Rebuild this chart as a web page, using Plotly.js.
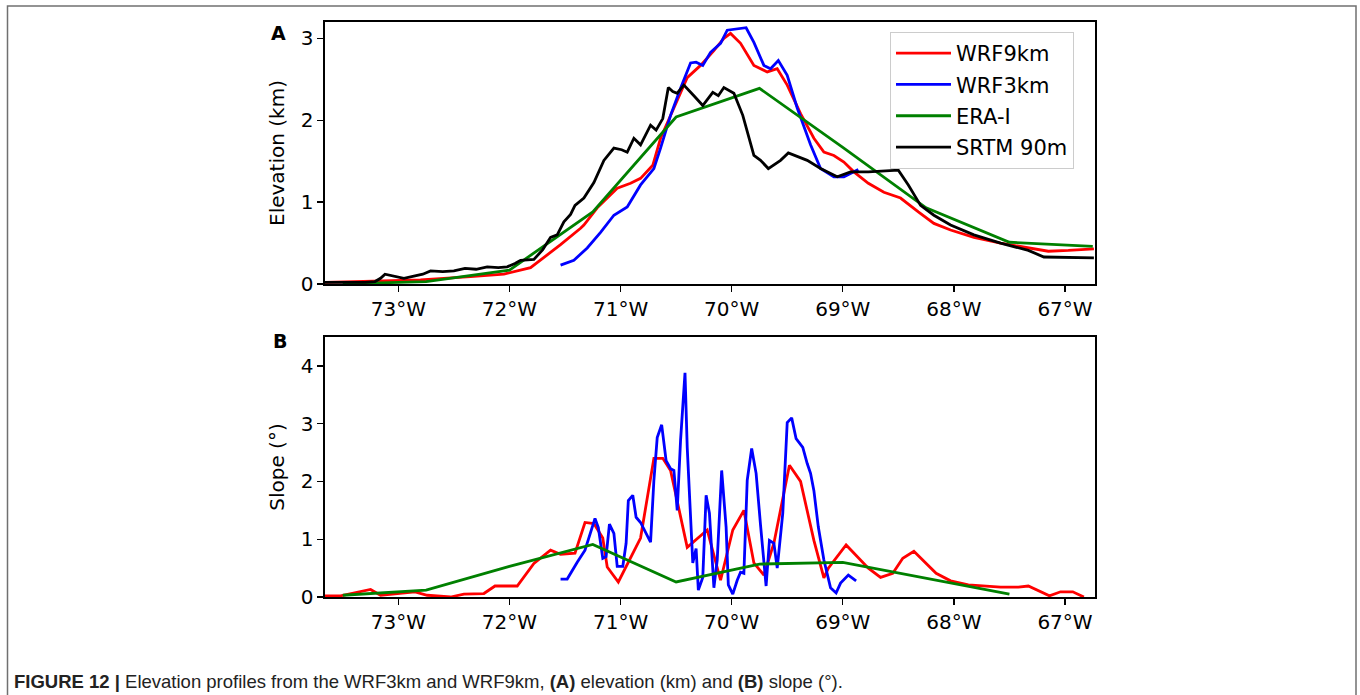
<!DOCTYPE html>
<html>
<head>
<meta charset="utf-8">
<script src="https://cdn.plot.ly/plotly-3.0.1.min.js"></script>
<style>
  html, body { margin: 0; padding: 0; background: #fff; }
  #chart { width: 1360px; height: 695px; }
</style>
</head>
<body>
<div id="chart"></div>
<script>
// ---- Panel A: elevation (km) ----
const wrf9Lon  = [-73.66,-73.16,-72.80,-72.35,-72.05,-71.81,-71.66,-71.54,-71.36,-71.33,-71.21,-71.03,-70.91,-70.82,-70.71,-70.64,-70.52,-70.40,-70.28,-70.16,-70.07,-70.01,-69.92,-69.80,-69.68,-69.59,-69.50,-69.38,-69.26,-69.17,-69.08,-68.99,-68.90,-68.77,-68.63,-68.48,-68.32,-68.18,-68.03,-67.82,-67.58,-67.33,-67.15,-66.97,-66.74];
const wrf9Elev = [0.02,0.04,0.05,0.09,0.12,0.20,0.35,0.48,0.68,0.72,0.93,1.17,1.23,1.29,1.45,1.78,2.15,2.52,2.67,2.85,3.00,3.06,2.94,2.67,2.59,2.63,2.43,2.08,1.78,1.61,1.57,1.49,1.37,1.23,1.12,1.05,0.88,0.74,0.66,0.57,0.50,0.44,0.40,0.41,0.43];

const wrf3Lon  = [-71.54,-71.42,-71.30,-71.18,-71.06,-70.94,-70.82,-70.70,-70.64,-70.55,-70.46,-70.37,-70.32,-70.26,-70.19,-70.10,-70.04,-69.95,-69.87,-69.80,-69.71,-69.65,-69.58,-69.50,-69.41,-69.29,-69.20,-69.08,-68.99,-68.86];
const wrf3Elev = [0.23,0.29,0.44,0.63,0.84,0.94,1.21,1.41,1.66,2.06,2.39,2.70,2.71,2.67,2.83,2.94,3.10,3.12,3.13,2.95,2.67,2.63,2.73,2.55,2.15,1.70,1.41,1.31,1.31,1.40];

const eraLon  = [-73.50,-72.75,-72.00,-71.25,-70.50,-69.75,-69.00,-68.25,-67.50,-66.75];
const eraElev = [0.00,0.03,0.17,0.88,2.04,2.39,1.67,0.93,0.51,0.46];

const srtmLon  = [-73.66,-73.30,-73.21,-73.16,-73.12,-73.05,-72.95,-72.85,-72.78,-72.71,-72.60,-72.50,-72.40,-72.30,-72.20,-72.10,-72.02,-71.95,-71.90,-71.78,-71.70,-71.63,-71.57,-71.51,-71.45,-71.41,-71.33,-71.24,-71.15,-71.06,-70.99,-70.94,-70.88,-70.82,-70.73,-70.68,-70.62,-70.57,-70.53,-70.49,-70.43,-70.34,-70.26,-70.17,-70.12,-70.07,-70.02,-69.98,-69.90,-69.80,-69.74,-69.67,-69.56,-69.49,-69.32,-69.20,-69.05,-68.93,-68.77,-68.63,-68.50,-68.41,-68.30,-68.18,-68.03,-67.82,-67.58,-67.33,-67.19,-66.74];
const srtmElev = [0.02,0.02,0.03,0.07,0.12,0.10,0.07,0.10,0.12,0.16,0.15,0.16,0.19,0.18,0.21,0.20,0.21,0.25,0.29,0.30,0.42,0.57,0.60,0.76,0.85,0.96,1.05,1.24,1.51,1.66,1.64,1.61,1.78,1.70,1.94,1.88,2.02,2.40,2.35,2.33,2.43,2.30,2.18,2.34,2.30,2.40,2.36,2.33,2.06,1.57,1.51,1.41,1.51,1.60,1.51,1.41,1.31,1.37,1.37,1.38,1.39,1.21,0.96,0.84,0.72,0.60,0.50,0.41,0.33,0.32];

// ---- Panel B: slope (degrees) ----
const wrf9SlopeLon = [-73.66,-73.52,-73.25,-73.16,-73.01,-72.85,-72.74,-72.53,-72.41,-72.23,-72.13,-71.93,-71.78,-71.63,-71.54,-71.41,-71.32,-71.24,-71.16,-71.12,-71.02,-70.82,-70.70,-70.62,-70.55,-70.40,-70.22,-70.10,-69.99,-69.89,-69.80,-69.71,-69.62,-69.48,-69.38,-69.26,-69.17,-69.13,-68.97,-68.77,-68.66,-68.55,-68.46,-68.36,-68.16,-68.03,-67.87,-67.58,-67.42,-67.33,-67.14,-67.04,-66.93,-66.83];
const wrf9Slope    = [0.02,0.02,0.13,0.03,0.06,0.09,0.03,0.00,0.05,0.06,0.19,0.19,0.58,0.81,0.74,0.76,1.29,1.27,1.02,0.52,0.26,1.02,2.40,2.40,2.19,0.86,1.16,0.29,1.16,1.50,0.59,0.38,0.93,2.28,2.00,0.98,0.33,0.50,0.90,0.50,0.34,0.41,0.67,0.79,0.41,0.28,0.21,0.17,0.17,0.19,0.02,0.09,0.09,0.00];

const wrf3SlopeLon = [-71.54,-71.48,-71.39,-71.32,-71.23,-71.20,-71.16,-71.13,-71.10,-71.06,-71.03,-70.98,-70.95,-70.93,-70.89,-70.86,-70.82,-70.73,-70.70,-70.67,-70.63,-70.59,-70.55,-70.52,-70.49,-70.46,-70.42,-70.40,-70.35,-70.32,-70.30,-70.26,-70.23,-70.20,-70.16,-70.13,-70.09,-70.05,-70.03,-69.99,-69.95,-69.92,-69.89,-69.86,-69.82,-69.78,-69.74,-69.69,-69.66,-69.62,-69.59,-69.54,-69.50,-69.46,-69.42,-69.36,-69.32,-69.29,-69.26,-69.22,-69.17,-69.11,-69.06,-69.02,-68.95,-68.88];
const wrf3Slope    = [0.31,0.31,0.60,0.81,1.36,1.20,0.67,0.70,1.26,1.10,0.53,0.53,0.93,1.67,1.76,1.38,1.29,0.95,2.02,2.76,2.98,2.36,2.22,2.19,1.50,2.71,3.88,2.59,0.59,0.84,0.12,0.34,1.76,1.45,0.16,0.64,2.19,1.21,0.21,0.05,0.29,0.43,0.41,2.02,2.57,2.14,1.24,0.19,0.98,0.93,0.50,1.45,3.02,3.10,2.74,2.59,2.31,2.14,1.84,1.21,0.64,0.16,0.07,0.24,0.38,0.28];

const eraSlopeLon = [-73.50,-72.75,-72.00,-71.25,-70.50,-69.75,-69.00,-68.25,-67.50];
const eraSlope    = [0.03,0.12,0.53,0.91,0.26,0.57,0.60,0.33,0.05];

const tickVals = [-73,-72,-71,-70,-69,-68,-67];
const tickText = ["73°W","72°W","71°W","70°W","69°W","68°W","67°W"];

const names  = ["WRF9km","WRF3km","ERA-I","SRTM 90m"];
const colors = ["#ff0000","#0000ff","#008000","#000000"];

const LW = 2.8;
const traces = [
  {x: wrf9Lon, y: wrf9Elev, name: names[0], legendgroup: names[0], mode: "lines", line: {color: colors[0], width: LW}, xaxis: "x", yaxis: "y"},
  {x: wrf3Lon, y: wrf3Elev, name: names[1], legendgroup: names[1], mode: "lines", line: {color: colors[1], width: LW}, xaxis: "x", yaxis: "y"},
  {x: eraLon, y: eraElev, name: names[2], legendgroup: names[2], mode: "lines", line: {color: colors[2], width: LW}, xaxis: "x", yaxis: "y"},
  {x: srtmLon, y: srtmElev, name: names[3], legendgroup: names[3], mode: "lines", line: {color: colors[3], width: LW}, xaxis: "x", yaxis: "y"},
  {x: wrf9SlopeLon, y: wrf9Slope, name: names[0], legendgroup: names[0], mode: "lines", line: {color: colors[0], width: LW}, xaxis: "x2", yaxis: "y2", showlegend: false},
  {x: wrf3SlopeLon, y: wrf3Slope, name: names[1], legendgroup: names[1], mode: "lines", line: {color: colors[1], width: LW}, xaxis: "x2", yaxis: "y2", showlegend: false},
  {x: eraSlopeLon, y: eraSlope, name: names[2], legendgroup: names[2], mode: "lines", line: {color: colors[2], width: LW}, xaxis: "x2", yaxis: "y2", showlegend: false}
];

const FONT = "DejaVu Sans, sans-serif";
const axisCommon = {
  showline: true, linecolor: "#000", linewidth: 1.6, mirror: true,
  ticks: "outside", ticklen: 6, tickwidth: 1.4, tickcolor: "#000",
  showgrid: false, zeroline: false,
  tickfont: {family: FONT, size: 20, color: "#000"}
};

// plot area pixels: x 325..1095, y 22..597
const L = 325, R = 1095, T = 22, B = 597;
const W = 1360, H = 695;
const px = v => (v - L) / (R - L);
const py = v => (B - v) / (B - T);

const layout = {
  width: W, height: H,
  margin: {l: L, r: W - R, t: T, b: H - B, pad: 0},
  paper_bgcolor: "#fff", plot_bgcolor: "#fff",
  font: {family: FONT, color: "#000"},
  showlegend: true,
  legend: {
    x: px(890), y: py(32), xanchor: "left", yanchor: "top",
    bgcolor: "rgba(255,255,255,0.9)", bordercolor: "#cccccc", borderwidth: 1,
    font: {family: FONT, size: 21, color: "#000"},
    itemwidth: 55, traceorder: "grouped", tracegroupgap: 1
  },
  xaxis: Object.assign({}, axisCommon, {
    domain: [0, 1], anchor: "y", range: [-73.66, -66.73],
    tickvals: tickVals, ticktext: tickText
  }),
  yaxis: Object.assign({}, axisCommon, {
    domain: [py(284), 1], anchor: "x", range: [0, 3.2],
    tickvals: [0, 1, 2, 3],
    title: {text: "Elevation (km)", font: {family: FONT, size: 20, color: "#000"}, standoff: 10}
  }),
  xaxis2: Object.assign({}, axisCommon, {
    domain: [0, 1], anchor: "y2", range: [-73.66, -66.73],
    tickvals: tickVals, ticktext: tickText
  }),
  yaxis2: Object.assign({}, axisCommon, {
    domain: [0, py(337)], anchor: "x2", range: [0, 4.5],
    tickvals: [0, 1, 2, 3, 4],
    title: {text: "Slope (°)", font: {family: FONT, size: 20, color: "#000"}, standoff: 10}
  }),
  shapes: [
    {type: "rect", xref: "paper", yref: "paper",
     x0: px(7.5), x1: px(1356), y0: py(705), y1: py(6),
     line: {color: "#707070", width: 1.5}, fillcolor: "rgba(0,0,0,0)", layer: "below"}
  ],
  annotations: [
    {text: "<b>A</b>", xref: "paper", yref: "paper", x: px(278), y: py(33),
     xanchor: "center", yanchor: "middle", showarrow: false,
     font: {family: FONT, size: 19, color: "#000"}},
    {text: "<b>B</b>", xref: "paper", yref: "paper", x: px(280), y: py(341),
     xanchor: "center", yanchor: "middle", showarrow: false,
     font: {family: FONT, size: 19, color: "#000"}},
    {text: "<b>FIGURE 12 |</b> Elevation profiles from the WRF3km and WRF9km, <b>(A)</b> elevation (km) and <b>(B)</b> slope (°).",
     xref: "paper", yref: "paper", x: px(12), y: py(681),
     xanchor: "left", yanchor: "middle", showarrow: false, align: "left",
     font: {family: "Liberation Sans, Arial, sans-serif", size: 18.5, color: "#222"}}
  ]
};

Plotly.newPlot("chart", traces, layout, {displayModeBar: false, staticPlot: true});
</script>
</body>
</html>
